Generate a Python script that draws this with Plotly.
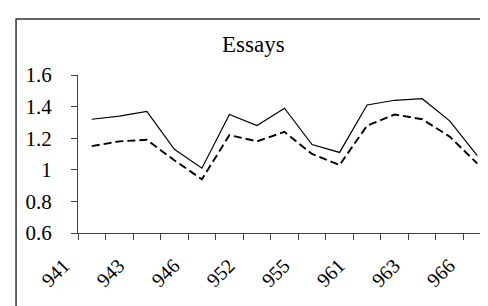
import plotly.graph_objects as go

categories = ["941", "942", "943", "945", "946", "951", "952", "954",
              "955", "956", "961", "962", "963", "965", "966"]
tick_labels = ["941", "", "943", "", "946", "", "952", "",
               "955", "", "961", "", "963", "", "966"]
solid_values = [1.32, 1.34, 1.37, 1.13, 1.01, 1.35, 1.28, 1.39,
                1.16, 1.11, 1.41, 1.44, 1.45, 1.31, 1.09]
dashed_values = [1.15, 1.18, 1.19, 1.06, 0.94, 1.22, 1.18, 1.24,
                 1.10, 1.03, 1.28, 1.35, 1.32, 1.21, 1.04]
title_text = "Essays"

FONT = "Liberation Serif"

fig = go.Figure()
fig.add_trace(go.Scatter(x=categories, y=solid_values, mode="lines",
                         line=dict(color="black", width=1.2), showlegend=False))
fig.add_trace(go.Scatter(x=categories, y=dashed_values, mode="lines",
                         line=dict(color="black", width=1.9, dash="8px,4px"),
                         showlegend=False))

fig.update_layout(
    width=488, height=306,
    margin=dict(l=70, r=5, t=67, b=81),
    paper_bgcolor="white", plot_bgcolor="white",
    font=dict(family=FONT, size=18, color="black"),
    xaxis=dict(type="category", tickmode="array", tickvals=categories,
               ticktext=tick_labels, tickson="boundaries", ticks="outside",
               ticklen=6, tickcolor="#444", showline=True, linecolor="#444",
               linewidth=1, showgrid=False, zeroline=False, tickangle=-45,
               range=[-0.5, 14.5], ticklabelshift=-28, ticklabelstandoff=12,
               tickfont=dict(family=FONT, size=20)),
    yaxis=dict(range=[0.6, 1.6], tickmode="array",
               tickvals=[0.6, 0.8, 1.0, 1.2, 1.4, 1.6],
               ticktext=["0.6", "0.8", "1", "1.2", "1.4", "1.6"],
               ticks="outside", ticklen=6, tickcolor="#444", showline=True,
               linecolor="#444", linewidth=1, showgrid=False, zeroline=False,
               ticklabelstandoff=15,
               tickfont=dict(family=FONT, size=21)),
    shapes=[dict(type="rect", xref="paper", yref="paper",
                 x0=-0.150, x1=1.05, y0=-0.6, y1=1.354,
                 line=dict(color="#333", width=1.5))],
    annotations=[dict(text=title_text, xref="paper", yref="paper",
                      x=0.424, y=1.19, xanchor="center", yanchor="middle",
                      showarrow=False, font=dict(family=FONT, size=23))],
)

fig.write_html("out.html")
